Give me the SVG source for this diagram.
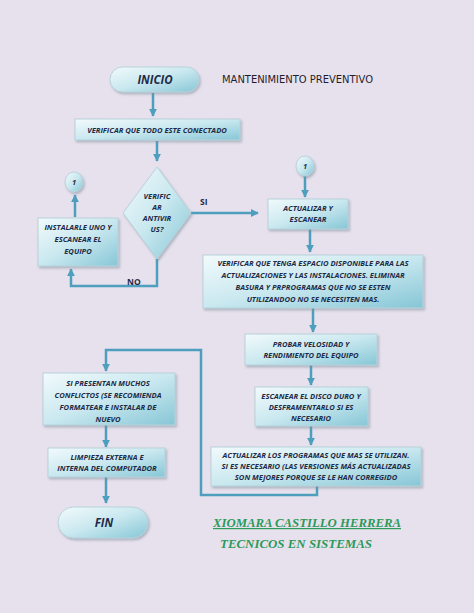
<svg xmlns="http://www.w3.org/2000/svg" width="474" height="613" viewBox="0 0 474 613">
<defs>
<linearGradient id="g" x1="0" y1="0" x2="1" y2="1">
<stop offset="0" stop-color="#f2fafc"/>
<stop offset="0.5" stop-color="#c9e8ef"/>
<stop offset="1" stop-color="#86c6d6"/>
</linearGradient>
<filter id="sh" x="-10%" y="-10%" width="130%" height="140%">
<feDropShadow dx="1.5" dy="2" stdDeviation="1.2" flood-color="#7a8a99" flood-opacity="0.5"/>
</filter>
<marker id="ar" viewBox="0 0 10 10" refX="9" refY="5" markerWidth="3.2" markerHeight="3.2" orient="auto" markerUnits="strokeWidth">
<path d="M0,0 L10,5 L0,10 z" fill="#4d9fbd"/>
</marker>
</defs>
<style>
.n{fill:url(#g);stroke:#b7d2db;stroke-width:1;filter:url(#sh)}
.t{font-family:"Open Sans","Liberation Sans",sans-serif;font-weight:bold;font-style:italic;font-size:7.6px;fill:#1e2b48;text-anchor:middle}
.big{font-size:11.5px}
.c{fill:none;stroke:#4d9fbd;stroke-width:2.5}
.lbl{font-family:"Open Sans","Liberation Sans",sans-serif;font-weight:bold;font-size:8.5px;fill:#1e2b48}
.g{font-family:"Liberation Serif",serif;font-style:italic;font-weight:bold;font-size:12px;fill:#2b9a5a}
</style>
<rect width="474" height="613" fill="#e7e1ed"/>

<g id="connectors">
<path class="c" d="M153,93 V116" marker-end="url(#ar)"/>
<path class="c" d="M157,141 V161" marker-end="url(#ar)"/>
<path class="c" d="M191,213 H258" marker-end="url(#ar)"/>
<path class="c" d="M157,259 V286 H71 V269" marker-end="url(#ar)"/>
<path class="c" d="M75,217 V195" marker-end="url(#ar)"/>
<path class="c" d="M305,176 V197" marker-end="url(#ar)"/>
<path class="c" d="M310,229 V252" marker-end="url(#ar)"/>
<path class="c" d="M313,308 V332" marker-end="url(#ar)"/>
<path class="c" d="M311,365 V385" marker-end="url(#ar)"/>
<path class="c" d="M311,426 V445" marker-end="url(#ar)"/>
<path class="c" d="M317,486 V495 H201 V350 H106 V371" marker-end="url(#ar)"/>
<path class="c" d="M106,425 V447" marker-end="url(#ar)"/>
<path class="c" d="M106,477 V503" marker-end="url(#ar)"/>
</g>

<g id="inicio">
<rect class="n" x="110" y="67" width="89" height="25" rx="12.5"/>
<text class="t big" x="155" y="83.5">INICIO</text>
</g>
<g id="titulo">
<text x="222" y="83" font-family="DejaVu Sans,sans-serif" font-size="10px" fill="#1e1e2e" textLength="151" lengthAdjust="spacingAndGlyphs">MANTENIMIENTO PREVENTIVO</text>
</g>
<g id="verificar">
<rect class="n" x="75" y="119" width="165" height="21"/>
<text class="t" x="157" y="132.5">VERIFICAR QUE TODO ESTE CONECTADO</text>
</g>
<g id="antivirus">
<polygon class="n" points="157,167 191,213 157,259 123,213"/>
<text class="t" x="157" y="199">VERIFIC</text>
<text class="t" x="157" y="210">AR</text>
<text class="t" x="157" y="220.5">ANTIVIR</text>
<text class="t" x="157" y="231.5">US?</text>
</g>
<g id="lbl-si"><text class="lbl" x="200" y="205">SI</text></g>
<g id="lbl-no"><text class="lbl" x="127" y="285">NO</text></g>
<g id="instalar">
<rect class="n" x="38" y="218" width="80" height="48"/>
<text class="t" x="78" y="229.5">INSTALARLE UNO Y</text>
<text class="t" x="78" y="241.5">ESCANEAR EL</text>
<text class="t" x="78" y="253.5">EQUIPO</text>
</g>
<g id="conector1a">
<ellipse class="n" cx="74" cy="182" rx="9" ry="10"/>
<text class="t" x="74" y="185">1</text>
</g>
<g id="conector1b">
<ellipse class="n" cx="305" cy="166" rx="9" ry="10"/>
<text class="t" x="305" y="169">1</text>
</g>
<g id="actualizar">
<rect class="n" x="268" y="199" width="80" height="30"/>
<text class="t" x="308" y="210.5">ACTUALIZAR Y</text>
<text class="t" x="308" y="221.5">ESCANEAR</text>
</g>
<g id="espacio">
<rect class="n" x="203" y="255" width="220" height="53"/>
<text class="t" x="313" y="266">VERIFICAR QUE TENGA ESPACIO DISPONIBLE PARA LAS</text>
<text class="t" x="313" y="278">ACTUALIZACIONES Y LAS INSTALACIONES.  ELIMINAR</text>
<text class="t" x="313" y="290">BASURA Y PRPROGRAMAS QUE NO SE ESTEN</text>
<text class="t" x="313" y="302">UTILIZANDOO NO SE NECESITEN MAS.</text>
</g>
<g id="probar">
<rect class="n" x="245" y="334" width="132" height="31"/>
<text class="t" x="311" y="346.5">PROBAR VELOSIDAD Y</text>
<text class="t" x="311" y="357.5">RENDIMIENTO DEL EQUIPO</text>
</g>
<g id="escanear">
<rect class="n" x="255" y="387" width="113" height="39"/>
<text class="t" x="311" y="398.5">ESCANEAR EL DISCO DURO Y</text>
<text class="t" x="311" y="409.5">DESFRAMENTARLO  SI ES</text>
<text class="t" x="311" y="421">NECESARIO</text>
</g>
<g id="programas">
<rect class="n" x="211" y="447" width="210" height="39"/>
<text class="t" x="316" y="457.5">ACTUALIZAR LOS PROGRAMAS QUE MAS SE UTILIZAN.</text>
<text class="t" x="316" y="468.5">SI ES NECESARIO (LAS VERSIONES MÁS ACTUALIZADAS</text>
<text class="t" x="316" y="480">SON MEJORES PORQUE SE LE HAN CORREGIDO</text>
</g>
<g id="conflictos">
<rect class="n" x="43" y="373" width="132" height="52"/>
<text class="t" x="108" y="385.5">SI PRESENTAN MUCHOS</text>
<text class="t" x="108" y="397.5">CONFLICTOS (SE RECOMIENDA</text>
<text class="t" x="108" y="409.5">FORMATEAR E INSTALAR DE</text>
<text class="t" x="108" y="421.5">NUEVO</text>
</g>
<g id="limpieza">
<rect class="n" x="48" y="448" width="117" height="29"/>
<text class="t" x="107" y="459.5">LIMPIEZA EXTERNA E</text>
<text class="t" x="107" y="470.5">INTERNA DEL COMPUTADOR</text>
</g>
<g id="fin">
<rect class="n" x="58" y="507" width="90" height="31" rx="15.5"/>
<text class="t big" x="104" y="526.5">FIN</text>
</g>
<g id="autor">
<text class="g" x="213" y="527" textLength="188" lengthAdjust="spacingAndGlyphs" text-decoration="underline">XIOMARA CASTILLO HERRERA</text>
<text class="g" x="220" y="548" textLength="152" lengthAdjust="spacingAndGlyphs">TECNICOS EN SISTEMAS</text>
</g>
</svg>
